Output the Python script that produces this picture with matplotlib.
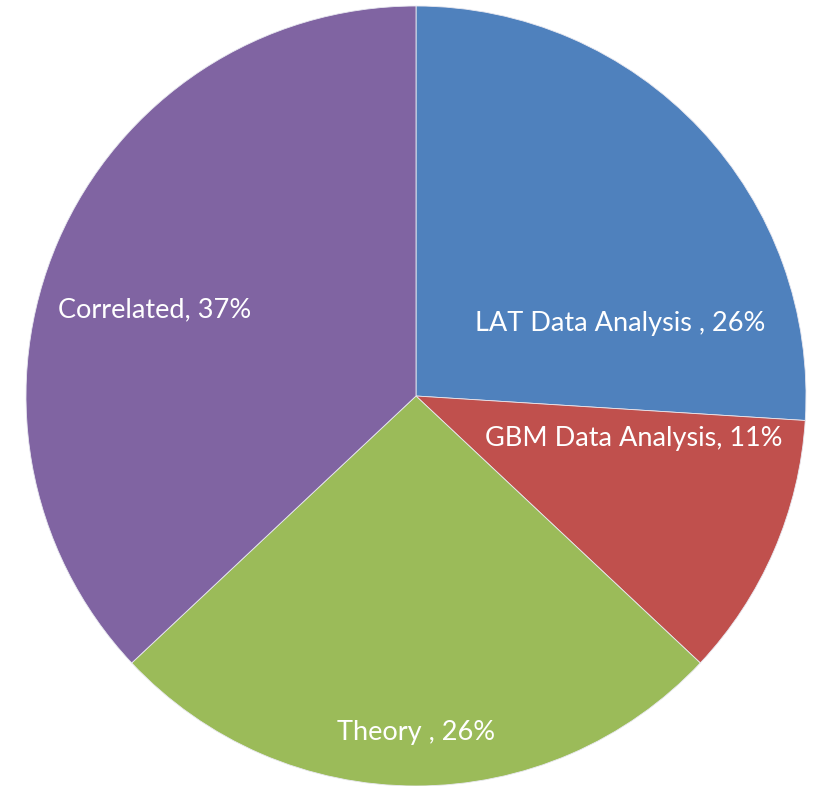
import matplotlib.pyplot as plt

# Data
categories = ['LAT Data Analysis ', 'GBM Data Analysis', 'Theory ', 'Correlated']
shares = [26, 11, 26, 37]
colors = ['#4F81BD', '#C0504D', '#9BBB59', '#8064A2']
# label positions (in pie radius units)
label_pos = [(0.523, 0.187), (0.559, -0.108), (0.0, -0.864), (-0.669, 0.221)]

fig = plt.figure(figsize=(8.2, 7.86), dpi=100)
ax = fig.add_axes([26 / 820, 0 / 786, 780 / 820, 780 / 786])

ax.pie(shares, colors=colors, startangle=90, counterclock=False,
       wedgeprops=dict(edgecolor='#e8e8f0', linewidth=0.6))

for name, val, (x, y) in zip(categories, shares, label_pos):
    ax.text(x, y, f'{name}, {val}%', color='white', fontsize=19.5,
            family='Lato', ha='center', va='center')

ax.set_xlim(-1, 1)
ax.set_ylim(-1, 1)
ax.set_aspect('equal')
ax.axis('off')

plt.savefig('out.png', dpi=100)
